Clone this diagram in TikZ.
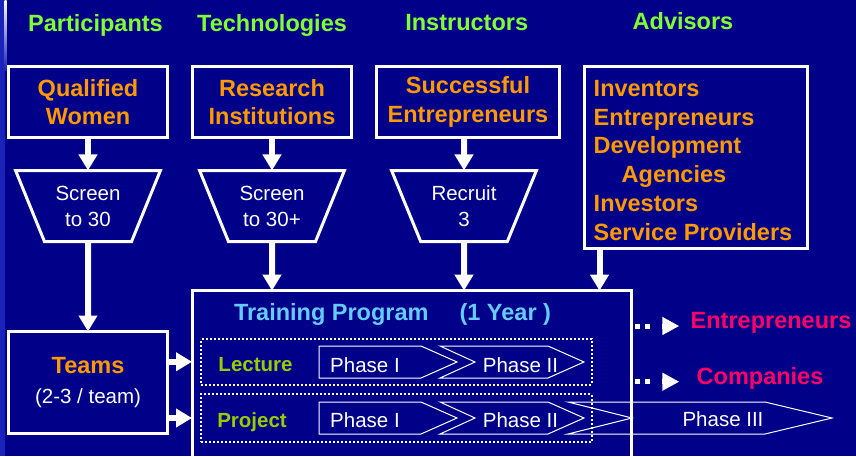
\documentclass[tikz,border=0pt]{standalone}
\usepackage{fontspec}
\setmainfont{Liberation Sans}
\usetikzlibrary{arrows.meta,shapes.geometric}
\definecolor{fond}{RGB}{0,0,136}
\definecolor{bande}{RGB}{25,35,185}
\definecolor{vertclair}{RGB}{128,255,51}
\definecolor{vertolive}{RGB}{153,204,0}
\definecolor{orangevif}{RGB}{255,153,0}
\definecolor{bleuclair}{RGB}{102,204,255}
\definecolor{rose}{RGB}{255,0,102}

\begin{document}
\begin{tikzpicture}[
		x=1pt, y=-1pt,
		every node/.style={inner sep=0pt, outer sep=0pt},
		titre/.style={anchor=base, text=vertclair, font=\bfseries\fontsize{23.5}{28.8}\selectfont},
		boite/.style={
				draw=white,
				line width=3pt,
				align=center,
				text=orangevif,
				font=\bfseries\fontsize{23.5}{28.8}\selectfont
			},
		entonnoir/.style={
				draw=white,
				line width=3pt,
				trapezium,
				shape border rotate=180,
				trapezium angle=62,
				trapezium stretches=true,
				minimum width=145pt,
				minimum height=71pt,
				align=center,
				text=white,
				font=\fontsize{20.5}{26}\selectfont
			},
		fleche/.style={draw=white, line width=6pt, -{Triangle[length=16pt,width=18pt]}},
		sortie/.style={draw=white, line width=5pt, dash pattern=on 5pt off 5pt on 5pt off 30pt,
				shorten <=3.5pt, shorten >=17pt},
		pointe/.style={draw=white, line width=5pt, -{Triangle[length=17pt,width=17pt]}},
		rangee/.style={draw=white, line width=2pt, dash pattern=on 2pt off 2pt},
		etape/.style={draw=white, line width=1pt},
		etiquette/.style={anchor=base, text=vertolive, font=\bfseries\fontsize{20.5}{25}\selectfont},
		phase/.style={anchor=base, text=white, font=\fontsize{20.5}{25}\selectfont},
		resultat/.style={anchor=west, text=rose, text height=17pt, text depth=11.5pt,
				font=\bfseries\fontsize{23.5}{28.8}\selectfont}
	]
	\useasboundingbox (0,0) rectangle (856,456);
	\clip (0,0) rectangle (856,456);
	\fill[fond] (0,0) rectangle (856,456);
	\fill[bande] (0,0) rectangle (5,456);
	\shade[top color=white, bottom color=bande] (4.5,0) rectangle (6.5,70);

	% en-tetes
	\node[titre] (tpart) at (95.5,31) {Participants};
	\node[titre] (ttech) at (272,31) {Technologies};
	\node[titre] (tinst) at (466.7,30.7) {Instructors};
	\node[titre] (tadv) at (683,29.3) {Advisors};

	\node[boite, minimum width=159pt, minimum height=71pt] (femmes) at (88,102) {Qualified\\Women};
	\node[boite, minimum width=159pt, minimum height=71pt] (instituts) at (272,102) {Research\\Institutions};
	\node[boite, minimum width=183pt, minimum height=71pt] (entrep) at (468,102) {Successful\\Entrepreneurs};
	\node[boite, minimum width=223pt, minimum height=182pt, align=left] (conseil) at (696,157)
	{\rule{0pt}{22.8pt}Inventors\\Entrepreneurs\\Development\\\hspace*{28pt}Agencies\\Investors\\Service Providers\hspace*{6pt}};

	\node[entonnoir] (tri) at (88,206) {Screen\\to 30};
	\node[entonnoir] (triplus) at (272,206) {Screen\\to 30+};
	\node[entonnoir] (recrute) at (464,206) {Recruit\\3};

	\node[boite, minimum width=159pt, minimum height=102pt] (equipes) at (88,382.5)
	{Teams\\[1.2pt]{\mdseries\color{white}\fontsize{20.5}{26}\selectfont(2-3 / team)}};

	% programme
	\node[draw=white, line width=3pt, minimum width=439.5pt, minimum height=200pt,
		anchor=north west] (formation) at (192,290.7) {};
	\node[anchor=base west, text=bleuclair, font=\bfseries\fontsize{23.5}{28.8}\selectfont]
	(titreform) at (234,320) {Training Program\hspace{31pt}(1 Year )};

	\node[rangee, minimum width=390.5pt, minimum height=45.5pt, anchor=north west] (cours) at (201,339) {};
	\node[rangee, minimum width=390.5pt, minimum height=48pt, anchor=north west] (projet) at (201,394) {};
	\node[etiquette] (lcours) at (255.5,371.7) {Lecture};
	\node[etiquette] (lprojet) at (252,427) {Project};

	\foreach \y in {362,418} {
			\draw[etape] (319,\y-16) -- (421,\y-16) -- (457,\y) -- (421,\y+16) -- (319,\y+16) -- cycle;
			\draw[etape] (440,\y-16) -- (548,\y-16) -- (584,\y) -- (548,\y+16) -- (440,\y+16) -- (475,\y) -- cycle;
		}
	\draw[etape] (568,402) -- (765,402) -- (832,418) -- (765,434) -- (568,434) -- (632,418) -- cycle;

	\node[phase] (pIa) at (365,372) {Phase I};
	\node[phase] (pIIa) at (520.5,372) {Phase II};
	\node[phase] (pIb) at (365,427) {Phase I};
	\node[phase] (pIIb) at (520.5,427) {Phase II};
	\node[phase] (pIII) at (723,426.7) {Phase III};

	\node[resultat] (sortieA) at (690.7,326) {Entrepreneurs};
	\node[resultat] (sortieB) at (696.7,381.7) {Companies};

	\draw[fleche] (femmes) -- (tri);
	\draw[fleche] (instituts) -- (triplus);
	\draw[fleche] (recrute |- entrep.south) -- (recrute);
	\draw[fleche] (tri) -- (equipes);
	\draw[fleche] (triplus) -- (triplus |- formation.north);
	\draw[fleche] (recrute) -- (recrute |- formation.north);
	\draw[fleche] (599.5,0 |- conseil.south) -- (599.5,0 |- formation.north);
	\draw[fleche] (equipes.east |- cours) -- (formation.west |- cours);
	\draw[fleche] (equipes.east |- projet) -- (formation.west |- projet);

	\draw[sortie] (formation.east |- sortieA.west) -- ([xshift=-11.4pt]sortieA.west);
	\draw[pointe] ([xshift=-29pt]sortieA.west) -- ([xshift=-11.4pt]sortieA.west);
	\draw[sortie] (formation.east |- sortieB.west) -- ([xshift=-17.4pt]sortieB.west);
	\draw[pointe] ([xshift=-35pt]sortieB.west) -- ([xshift=-17.4pt]sortieB.west);
\end{tikzpicture}
\end{document}
